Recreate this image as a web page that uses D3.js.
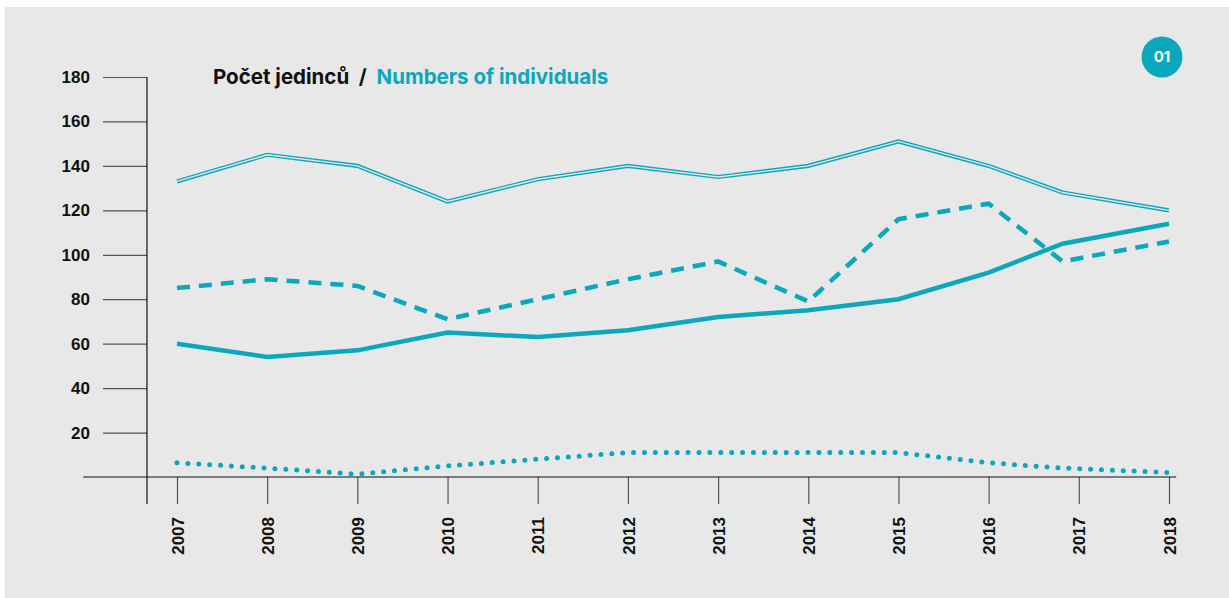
<!DOCTYPE html>
<html>
<head>
<meta charset="utf-8">
<script src="https://cdn.jsdelivr.net/npm/d3@7"></script>
<style>
  body { margin: 0; background: #fff; }
  svg { display: block; font-family: Inter, "Liberation Sans", sans-serif; }
</style>
</head>
<body>
<script>
// data
const years = [2007, 2008, 2009, 2010, 2011, 2012, 2013, 2014, 2015, 2016, 2017, 2018];
// x position of the points (the 2017 points sit a bit left of their tick)
const pointYears = [2007, 2008, 2009, 2010, 2011, 2012, 2013, 2014, 2015, 2016, 2016.82, 2018];
const doubleSeries = [133, 145, 140, 124, 134, 140, 135, 140, 151, 140, 128, 120];
const dashedSeries = [85, 89, 86, 71, 80, 89, 97, 79, 116, 123, 97, 106];
const solidSeries = [60, 54, 57, 65, 63, 66, 72, 75, 80, 92, 105, 114];
const dottedSeries = [6.4, 4, 1.3, 5, 8, 11, 11, 11, 11, 6.4, 4, 2];
const yTicks = [20, 40, 60, 80, 100, 120, 140, 160, 180];

const width = 1229;
const height = 598;
const teal = "#0aa7bd";
const bg = "#e8e8e8";

const svg = d3.select("body").append("svg")
    .attr("width", width)
    .attr("height", height);

svg.append("rect")
    .attr("x", 5).attr("y", 7)
    .attr("width", width - 5).attr("height", height - 7)
    .attr("fill", bg);

const x = d3.scaleLinear().domain([2007, 2018]).range([177, 1169]);
const y = d3.scaleLinear().domain([0, 180]).range([477, 77]);

// y axis
const yAxis = svg.append("g")
    .attr("transform", `translate(${x(2006.667)},0)`)
    .call(d3.axisLeft(y).tickValues(yTicks).tickSize(44).tickPadding(13));
yAxis.select(".domain").remove();
yAxis.selectAll(".tick line").attr("stroke", "#555").attr("stroke-width", 1.2);
yAxis.selectAll(".tick text")
    .attr("fill", "#111")
    .style("font-size", "17px")
    .style("font-weight", 700);

svg.append("line")
    .attr("x1", x(2006.667)).attr("x2", x(2006.667))
    .attr("y1", y(180)).attr("y2", y(0) + 27)
    .attr("stroke", "#111").attr("stroke-width", 1.2);

// x axis
const xAxis = svg.append("g")
    .attr("transform", `translate(0,${y(0)})`)
    .call(d3.axisBottom(x).tickValues(years).tickFormat(d3.format("d")).tickSize(27));
xAxis.select(".domain").remove();
xAxis.selectAll(".tick line").attr("stroke", "#555").attr("stroke-width", 1.2);
xAxis.selectAll(".tick text")
    .attr("fill", "#111")
    .style("font-size", "17px")
    .style("font-weight", 700)
    .attr("text-anchor", "end")
    .attr("transform", "rotate(-90)")
    .attr("x", -40)
    .attr("y", 0)
    .attr("dy", "0.36em");

svg.append("line")
    .attr("x1", x(2005.96)).attr("x2", x(2018.08))
    .attr("y1", y(0)).attr("y2", y(0))
    .attr("stroke", "#111").attr("stroke-width", 1.2);

const line = d3.line()
    .x((d, i) => x(pointYears[i]))
    .y(d => y(d));

// double line: wide teal stroke with a thin background stroke on top
svg.append("path")
    .attr("d", line(doubleSeries))
    .attr("fill", "none")
    .attr("stroke", teal)
    .attr("stroke-width", 4.2);
svg.append("path")
    .attr("d", line(doubleSeries))
    .attr("fill", "none")
    .attr("stroke", bg)
    .attr("stroke-width", 1.4);

svg.append("path")
    .attr("d", line(dashedSeries))
    .attr("fill", "none")
    .attr("stroke", teal)
    .attr("stroke-width", 4.5)
    .attr("stroke-dasharray", "13 9");

svg.append("path")
    .attr("d", line(solidSeries))
    .attr("fill", "none")
    .attr("stroke", teal)
    .attr("stroke-width", 4.5);

svg.append("path")
    .attr("d", line(dottedSeries))
    .attr("fill", "none")
    .attr("stroke", teal)
    .attr("stroke-width", 5)
    .attr("stroke-linecap", "round")
    .attr("stroke-dasharray", "0 10.9");

// title
const title = svg.append("text")
    .attr("x", 213)
    .attr("y", 84)
    .attr("xml:space", "preserve")
    .style("white-space", "pre")
    .style("font-size", "20.5px")
    .style("font-weight", 700);
title.append("tspan").attr("fill", "#111").text("Počet jedinců  /  ");
title.append("tspan").attr("fill", teal).text("Numbers of individuals");

// badge
svg.append("circle")
    .attr("cx", 1162).attr("cy", 57).attr("r", 20.5)
    .attr("fill", teal);
svg.append("text")
    .attr("x", 1162).attr("y", 57)
    .attr("dy", "0.36em")
    .attr("text-anchor", "middle")
    .attr("fill", "#fff")
    .style("font-size", "15px")
    .style("font-weight", 700)
    .text("01");
</script>
</body>
</html>
